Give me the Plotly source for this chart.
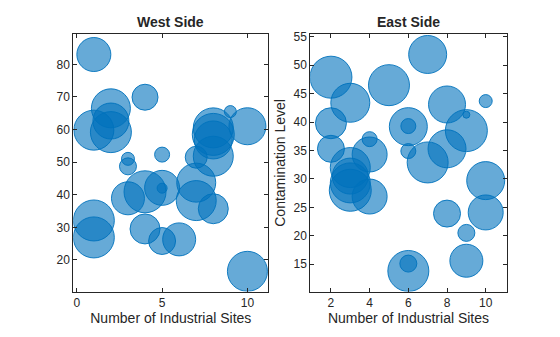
import plotly.graph_objects as go

# West Side data
west_sites = [1, 4, 2, 2, 2, 1, 3, 3, 5, 7, 9, 10, 8, 8, 8, 8, 7, 7, 8, 5, 5, 4, 3, 1, 1, 4, 5, 6, 10]
west_level = [83.0, 69.9, 66.5, 62.6, 59.2, 59.8, 51.0, 48.7, 52.3, 51.5, 65.5, 61.0, 60.5, 58.5, 56.8,
              51.8, 43.7, 38.2, 35.7, 42.1, 42.0, 40.9, 38.9, 32.1, 26.9, 29.5, 25.8, 26.3, 16.5]
west_size = [34, 26, 39, 36, 41, 40, 13, 17, 15, 22, 12, 37, 40, 42, 38, 40, 39, 40, 30, 35, 10, 42, 33,
             41, 41, 30, 27, 33, 40]

# East Side data
east_sites = [2, 3, 5, 7, 2, 2, 4, 4, 6, 6, 6, 7, 8, 8, 9, 9, 10, 10, 10, 8, 9, 9, 6, 6, 3, 3, 3, 3, 4]
east_level = [47.9, 43.4, 46.5, 51.9, 39.8, 35.3, 37.0, 34.3, 39.2, 39.3, 34.9, 32.9, 43.1, 35.3, 38.5,
              41.3, 43.7, 29.7, 24.1, 23.9, 20.5, 15.6, 13.8, 15.1, 32.0, 30.5, 29.3, 28.0, 26.9]
east_size = [42, 39, 41, 38, 31, 27, 15, 35, 38, 15, 15, 41, 37, 38, 42, 7, 13, 38, 35, 27, 17, 33, 41,
             17, 40, 36, 40, 42, 35]

FILL = "rgba(0,114,189,0.6)"
EDGE = "rgba(0,114,189,0.9)"
FONT = "Liberation Sans, Arial, sans-serif"
TXT = "#262626"

fig = go.Figure()
fig.add_trace(go.Scatter(x=west_sites, y=west_level, mode="markers", xaxis="x", yaxis="y",
                         marker=dict(size=west_size, sizemode="diameter", color=FILL, opacity=1,
                                     line=dict(color=EDGE, width=1)),
                         showlegend=False, hoverinfo="x+y"))
fig.add_trace(go.Scatter(x=east_sites, y=east_level, mode="markers", xaxis="x2", yaxis="y2",
                         marker=dict(size=east_size, sizemode="diameter", color=FILL, opacity=1,
                                     line=dict(color=EDGE, width=1)),
                         showlegend=False, hoverinfo="x+y"))

ax_common = dict(showgrid=False, zeroline=False, showline=True, linecolor="#262626", linewidth=1,
                 mirror="ticks", ticks="inside", ticklen=4, tickcolor="#262626",
                 tickfont=dict(family=FONT, size=12, color=TXT))

fig.update_layout(
    width=560, height=337,
    margin=dict(l=0, r=0, t=0, b=0),
    paper_bgcolor="white", plot_bgcolor="white",
    font=dict(family=FONT, color=TXT),
    xaxis=dict(domain=[0.131, 0.479], range=[-0.2, 11.22], tickvals=[0, 5, 10],
               title=dict(text="Number of Industrial Sites", font=dict(size=14, family=FONT, color=TXT), standoff=2),
               anchor="y", **ax_common),
    yaxis=dict(domain=[0.1365, 0.909], range=[10.3, 89.2], tickvals=[20, 30, 40, 50, 60, 70, 80],
               anchor="x", **ax_common),
    xaxis2=dict(domain=[0.554, 0.905], range=[0.93, 11.09], tickvals=[2, 4, 6, 8, 10],
                title=dict(text="Number of Industrial Sites", font=dict(size=14, family=FONT, color=TXT), standoff=2),
                anchor="y2", **ax_common),
    yaxis2=dict(domain=[0.1365, 0.909], range=[10.18, 55.45], tickvals=[15, 20, 25, 30, 35, 40, 45, 50, 55],
                title=dict(text="Contamination Level", font=dict(size=14, family=FONT, color=TXT), standoff=4),
                anchor="x2", **ax_common),
    annotations=[
        dict(text="<b>West Side</b>", x=(0.131 + 0.479) / 2, y=0.915, xref="paper", yref="paper",
             xanchor="center", yanchor="bottom", showarrow=False, font=dict(size=14, family=FONT, color=TXT)),
        dict(text="<b>East Side</b>", x=(0.554 + 0.905) / 2, y=0.915, xref="paper", yref="paper",
             xanchor="center", yanchor="bottom", showarrow=False, font=dict(size=14, family=FONT, color=TXT)),
    ],
)

fig.write_html("out.html")
